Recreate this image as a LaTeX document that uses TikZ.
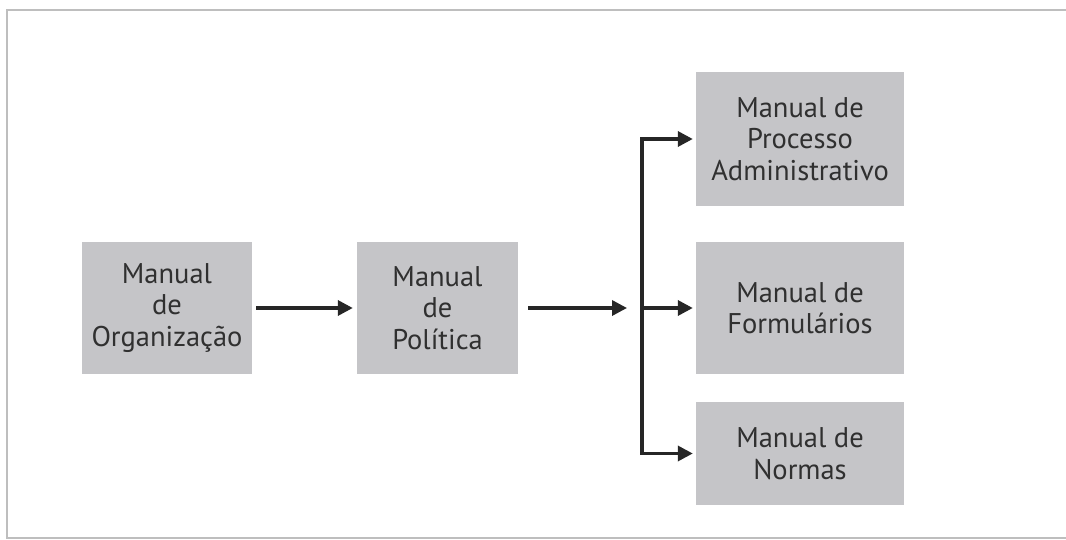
\documentclass[tikz,border=0pt]{standalone}
\usepackage{fontspec}
\setmainfont{PT Sans}
\usetikzlibrary{arrows.meta}
\definecolor{boxgray}{RGB}{197,197,200}
\definecolor{txtgray}{RGB}{48,48,48}
\definecolor{framegray}{RGB}{190,190,190}
\begin{document}
\begin{tikzpicture}[x=1pt,y=-1pt,
  box/.style={rectangle, fill=boxgray, draw=none, align=center, text=txtgray,
    inner sep=0pt, font=\fontsize{28.5}{31.5}\selectfont},
  conn/.style={line width=3.4pt, draw=black!85, -{Triangle[length=15pt,width=15pt]}},
  plain/.style={line width=3.4pt, draw=black!85}]
\useasboundingbox (0,0) rectangle (1066,540);
\draw[framegray, line width=2pt] (1066,10) -- (7,10) -- (7,538) -- (1066,538);
\node[box, minimum width=170pt, minimum height=132pt] (org) at (167,308) {Manual\\de\\Organização};
\node[box, minimum width=161pt, minimum height=132pt] (pol) at (437.5,308) {Manual\\de\\Política};
\node[box, minimum width=208pt, minimum height=134pt] (proc) at (800,139) {Manual de\\Processo\\Administrativo};
\node[box, minimum width=208pt, minimum height=132pt] (form) at (800,308) {Manual de\\Formulários};
\node[box, minimum width=208pt, minimum height=103pt] (norm) at (800,453.5) {Manual de\\Normas};
\coordinate (j) at (642,308);
\draw[conn, shorten <=4pt, shorten >=4pt] (org.east) -- (pol.west);
\draw[conn, shorten <=10pt, shorten >=15pt] (pol.east) -- (j);
\draw[plain, line cap=rect] (j |- proc.west) -- (j |- norm.west);
\draw[conn, shorten >=3pt] (j |- proc.west) -- (proc.west);
\draw[conn, shorten >=3pt] (j) -- (form.west);
\draw[conn, shorten >=3pt] (j |- norm.west) -- (norm.west);
\end{tikzpicture}
\end{document}
